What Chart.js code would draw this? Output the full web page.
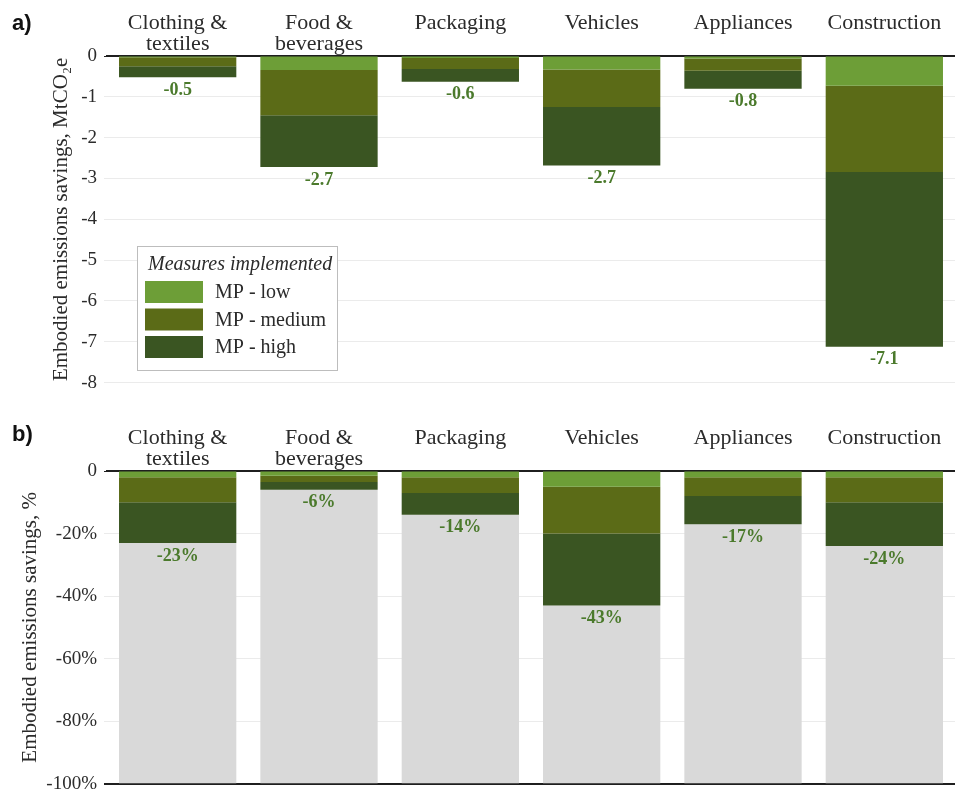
<!DOCTYPE html>
<html>
<head>
<meta charset="utf-8">
<script src="https://cdn.jsdelivr.net/npm/chart.js@4/dist/chart.umd.min.js"></script>
<style>
  html, body { margin: 0; padding: 0; background: #fff; }
  body { width: 955px; height: 791px; position: relative; overflow: hidden; }
  .panel { position: absolute; left: 0; width: 955px; }
  #panelA { top: 0; height: 401px; }
  #panelB { top: 395px; height: 407px; }
  .tag { position: absolute; left: 12px; font: bold 22px "Liberation Sans", Arial, sans-serif; color: #111; }
</style>
</head>
<body>
<div class="panel" id="panelA"><canvas id="chartA"></canvas></div>
<div class="panel" id="panelB"><canvas id="chartB"></canvas></div>
<div class="tag" style="top:10px">a)</div>
<div class="tag" style="top:421px">b)</div>
<script>
const CATEGORIES = [['Clothing &', 'textiles'], ['Food &', 'beverages'], 'Packaging', 'Vehicles', 'Appliances', 'Construction'];
const SERIES = ['MP - low', 'MP - medium', 'MP - high'];

// a) absolute savings, MtCO2e
const lowA = [-0.03, -0.34, -0.05, -0.33, -0.06, -0.73];
const mediumA = [-0.22, -1.11, -0.27, -0.92, -0.30, -2.11];
const highA = [-0.27, -1.27, -0.31, -1.43, -0.44, -4.28];
const totalsA = ['-0.5', '-2.7', '-0.6', '-2.7', '-0.8', '-7.1'];
const ticksA = [0, -1, -2, -3, -4, -5, -6, -7, -8];

// b) relative savings, %
const lowB = [-2, -1.5, -2, -5, -2, -2];
const mediumB = [-8, -2, -5, -15, -6, -8];
const highB = [-13, -2.5, -7, -23, -9, -14];
const restB = [-77, -94, -86, -57, -83, -76];
const totalsB = ['-23%', '-6%', '-14%', '-43%', '-17%', '-24%'];
const ticksB = [0, -20, -40, -60, -80, -100];

const SERIF = '"Liberation Serif", "Times New Roman", serif';
const COLORS = ['#6d9e37', '#5b6b17', '#3a5522'];
const REST_COLOR = '#d9d9d9';
const LABEL_GREEN = '#4b7a2c';
const TEXT = '#2b2b2b';
const GRID = '#ebebeb';
const AXIS = '#1f1f1f';

const totalLabels = {
  id: 'totalLabels',
  afterDatasetsDraw(chart, args, opts) {
    const meta = chart.getDatasetMeta(2);
    const { ctx } = chart;
    ctx.save();
    ctx.font = `bold 18px ${SERIF}`;
    ctx.fillStyle = LABEL_GREEN;
    ctx.textAlign = 'center';
    ctx.textBaseline = 'top';
    meta.data.forEach((bar, i) => ctx.fillText(opts.labels[i], bar.x, bar.y + 4));
    ctx.restore();
  },
};

const boxLegend = {
  id: 'boxLegend',
  afterDatasetsDraw(chart) {
    const { ctx, chartArea } = chart;
    const x = chartArea.left + 30;
    const y = chartArea.top + 190;
    ctx.save();
    ctx.fillStyle = '#fff';
    ctx.fillRect(x, y, 200, 124);
    ctx.strokeStyle = '#bdbdbd';
    ctx.lineWidth = 1;
    ctx.strokeRect(x + 0.5, y + 0.5, 200, 124);
    ctx.fillStyle = TEXT;
    ctx.textBaseline = 'middle';
    ctx.font = `italic 20px ${SERIF}`;
    ctx.fillText('Measures implemented', x + 11, y + 19);
    ctx.font = `20px ${SERIF}`;
    SERIES.forEach((name, i) => {
      const rowY = y + 35 + i * 27.5;
      ctx.fillStyle = chart.data.datasets[i].backgroundColor;
      ctx.fillRect(x + 8, rowY, 58, 22);
      ctx.fillStyle = TEXT;
      ctx.fillText(name, x + 78, rowY + 12);
    });
    ctx.restore();
  },
};

function makeChart(canvas, cfg) {
  const datasets = cfg.series.map((data, i) => ({
    label: SERIES[i] || 'rest',
    data,
    backgroundColor: COLORS[i] || REST_COLOR,
    borderWidth: 0,
    barPercentage: 0.83,
    categoryPercentage: 1,
  }));
  const minTick = cfg.ticks[cfg.ticks.length - 1];
  // eslint-disable-next-line no-new
  new Chart(canvas, {
    type: 'bar',
    data: { labels: CATEGORIES, datasets },
    plugins: cfg.plugins,
    options: {
      responsive: true,
      maintainAspectRatio: false,
      animation: false,
      layout: { padding: { left: cfg.padLeft, right: 0, top: 0, bottom: 0 } },
      plugins: {
        legend: { display: false },
        tooltip: { enabled: false },
        totalLabels: { labels: cfg.totals },
      },
      scales: {
        x: {
          position: 'top',
          stacked: true,
          grid: { drawOnChartArea: false, drawTicks: false },
          border: { display: true, color: AXIS, width: 2 },
          ticks: {
            color: TEXT,
            font: { family: SERIF, size: 22, lineHeight: 0.955 },
            padding: 1,
            crossAlign: 'far',
            maxRotation: 0,
            autoSkip: false,
          },
          afterFit: (s) => { s.height = cfg.topH; },
        },
        y: {
          stacked: true,
          min: minTick,
          max: 0,
          afterBuildTicks: (s) => { s.ticks = cfg.ticks.map((v) => ({ value: v })); },
          ticks: {
            color: TEXT,
            font: { family: SERIF, size: 19 },
            padding: 7,
            callback: cfg.tickFmt,
          },
          grid: {
            tickLength: 3,
            color: (c) => (c.tick && (c.tick.value === 0 || (cfg.darkBottom && c.tick.value === minTick)) ? AXIS : GRID),
            lineWidth: (c) => (c.tick && cfg.darkBottom && c.tick.value === minTick ? 2 : 1),
          },
          border: { display: false },
          title: {
            display: true,
            text: cfg.title,
            color: TEXT,
            font: { family: SERIF, size: 21 },
            padding: { top: cfg.titlePad, bottom: 0 },
          },
          afterFit: (s) => { s.width = 107 - cfg.padLeft; },
        },
      },
    },
  });
}

makeChart(document.getElementById('chartA'), {
  series: [lowA, mediumA, highA],
  totals: totalsA,
  ticks: ticksA,
  tickFmt: (v) => String(v),
  title: 'Embodied emissions savings, MtCO\u2082e',
  topH: 56,
  padLeft: 40,
  titlePad: 9,
  darkBottom: false,
  plugins: [totalLabels, boxLegend],
});

makeChart(document.getElementById('chartB'), {
  series: [lowB, mediumB, highB, restB],
  totals: totalsB,
  ticks: ticksB,
  tickFmt: (v) => (v === 0 ? '0' : `${v}%`),
  title: 'Embodied emissions savings, %',
  topH: 76,
  padLeft: 8,
  titlePad: 10,
  darkBottom: true,
  plugins: [totalLabels],
});
</script>
</body>
</html>
